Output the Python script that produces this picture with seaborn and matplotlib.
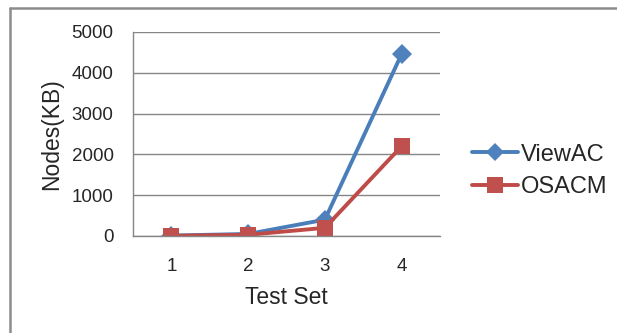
import numpy as np
import pandas as pd
import seaborn as sns
import matplotlib.pyplot as plt
from matplotlib.lines import Line2D

# chart data
test_sets = [1, 2, 3, 4]
view_ac = [10, 50, 400, 4460]
osacm = [5, 30, 200, 2200]
series_names = ["ViewAC", "OSACM"]
y_ticks = [0, 1000, 2000, 3000, 4000, 5000]

df = pd.DataFrame({
    "Test Set": test_sets * 2,
    "Nodes(KB)": view_ac + osacm,
    "series": [series_names[0]] * 4 + [series_names[1]] * 4,
})

sns.set_style("white")
plt.rcParams['font.family'] = ['Liberation Sans', 'DejaVu Sans']

grid_col = "#868686"
colors = {"ViewAC": "#4A7EBB", "OSACM": "#BE4B48"}
marker_cols = {"ViewAC": "#4F81BD", "OSACM": "#C0504D"}

fig = plt.figure(figsize=(6.17, 3.33), dpi=100)
ax = fig.add_axes([133 / 617, 1 - 236 / 333, (440 - 133) / 617, (236 - 32) / 333])

sns.lineplot(data=df, x="Test Set", y="Nodes(KB)", hue="series",
             palette=colors, style="series",
             markers={"ViewAC": "D", "OSACM": "s"}, dashes=False,
             linewidth=2.8, markersize=12, markeredgewidth=0,
             legend=False, ax=ax)

# markers in slightly different shade, like Excel
for line, name in zip(ax.get_lines(), series_names):
    line.set_markerfacecolor(marker_cols[name])
    line.set_markeredgecolor(marker_cols[name])
    if name == "ViewAC":
        line.set_markersize(10)

ax.set_xlim(0.5, 4.5)
ax.set_ylim(0, 5000)
ax.set_yticks(y_ticks)
ax.set_xticks(test_sets)
ax.set_xticks([0.5, 1.5, 2.5, 3.5, 4.5], minor=True)
ax.tick_params(axis="x", which="major", length=0, pad=16, labelsize=13.5)
ax.tick_params(axis="x", which="minor", length=7, width=1, color=grid_col, direction="out")
ax.tick_params(axis="y", length=5, width=1, color=grid_col, direction="out", pad=9, labelsize=13.5)
ax.yaxis.grid(True, color=grid_col, linewidth=1)
ax.set_axisbelow(True)
for s in ["top", "right"]:
    ax.spines[s].set_visible(False)
for s in ["left", "bottom"]:
    ax.spines[s].set_color(grid_col)
    ax.spines[s].set_linewidth(1)

ax.set_xlabel("Test Set", fontsize=16.5, labelpad=8)
ax.set_ylabel("Nodes(KB)", fontsize=16.5, labelpad=6)

handles = [Line2D([], [], color=colors[n], marker=m, markersize=9 if m == "D" else 11,
                  markerfacecolor=marker_cols[n], markeredgewidth=0, linewidth=2.8)
           for n, m in zip(series_names, ["D", "s"])]
fig.legend(handles, series_names, loc="center left",
           bbox_to_anchor=(472 / 617, 1 - 171 / 333), frameon=False,
           fontsize=17, handlelength=1.95, handletextpad=0.1,
           labelspacing=0.45, borderpad=0, borderaxespad=0)

# outer chart frame
fig.add_artist(Line2D([10 / 617, 1], [1 - 8 / 333] * 2, color="#8c8c8c", linewidth=1.8))
fig.add_artist(Line2D([10 / 617] * 2, [0, 1 - 8 / 333], color="#8c8c8c", linewidth=1.8))

fig.savefig("out.png", dpi=100)
